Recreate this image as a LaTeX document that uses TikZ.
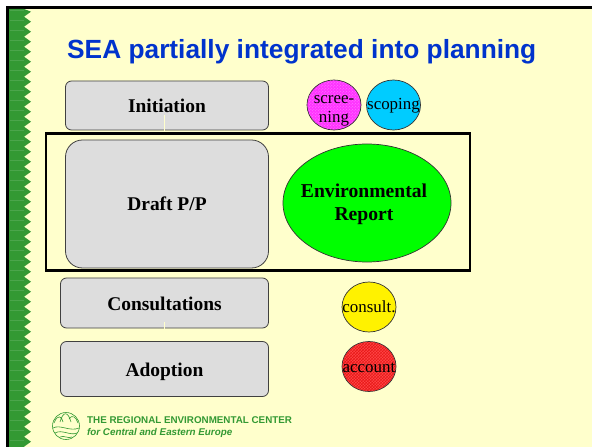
\documentclass[tikz,border=0pt]{standalone}
\usepackage{fontspec}
\setmainfont{Liberation Serif}
\setsansfont{Liberation Sans}
\usetikzlibrary{patterns,shapes.geometric}
\definecolor{bgy}{RGB}{255,255,204}
\definecolor{gbox}{RGB}{221,221,221}
\definecolor{leaf}{RGB}{51,153,51}
\definecolor{titleblue}{RGB}{0,51,204}
\definecolor{mag}{RGB}{255,51,255}
\definecolor{magl}{RGB}{255,130,255}
\definecolor{cyanb}{RGB}{0,204,255}
\definecolor{redb}{RGB}{255,70,70}
\definecolor{redl}{RGB}{230,20,20}
\newcommand{\zw}[2][0bp]{\raisebox{#1}[0pt][0pt]{\makebox[0pt]{#2}}}
\tikzset{
  x=1bp,y=-1bp,
  stage/.style={draw=black!75,line width=0.8bp,fill=gbox,minimum width=#1,align=center,font=\bfseries\fontsize{19.5}{22}\selectfont,inner sep=0pt},
  bubble/.style={ellipse,draw=black!80,line width=0.7bp,inner sep=0pt,minimum width=54bp,minimum height=50bp,align=center,font=\fontsize{17}{19}\selectfont},
  link/.style={draw=bgy,line width=0.9bp},
}
\begin{document}
\begin{tikzpicture}
\useasboundingbox (0,0) rectangle (592,447);
\fill[bgy] (0,0) rectangle (592,447);
\fill[white] (0,0) rectangle (592,6) (0,0) rectangle (6,447);
% frame
\fill[black] (6,6) rectangle (592,9);
\fill[black] (6,6) rectangle (9,447);
% zigzag band
\fill[leaf] (9,9) -- (24,9)
  \foreach \k in {0,...,43}{ -- (31,{11.7+10*\k}) -- (24,{16.7+10*\k}) } -- (24,447) -- (9,447) -- cycle;
\foreach \k in {0,...,43}{\draw[white,opacity=.12,line width=.6bp] (10,{10+10*\k}) -- (24,{10+10*\k});}
% title
\node[anchor=west,text=titleblue,font=\sffamily\bfseries\fontsize{26.4}{30}\selectfont,inner sep=0pt] (title) at (67,51.5) {SEA partially integrated into planning};
% stages
\node[stage=203bp,minimum height=49bp,rounded corners=6bp] (init) at (167,105.5) {\zw[-7.2bp]{Initiation}};
\node[stage=203bp,minimum height=128bp,rounded corners=17bp] (draft) at (167,204) {\zw[-6.5bp]{Draft P/P}};
\node[stage=208bp,minimum height=50bp,rounded corners=6bp] (cons) at (164.5,303) {\zw[-7.7bp]{Consultations}};
\node[stage=208bp,minimum height=55bp,rounded corners=6bp] (adop) at (164.5,369) {\zw[-7bp]{Adoption}};
% links
\coordinate (l1a) at (164.5,115);
\coordinate (l1b) at (164.5,131);
\coordinate (l2a) at (164.5,322);
\coordinate (l2b) at (164.5,341);
\draw[link] (l1a) -- (l1b);
\draw[link] (l2a) -- (l2b);
% enclosing rectangle
\node[draw=black,line width=2.2bp,minimum width=424bp,minimum height=137bp,inner sep=0pt] (group) at (258,202) {};
% bubbles
\node[bubble,fill=mag] (scr) at (334,105) {};
\fill[pattern=crosshatch dots,pattern color=magl] (scr.center) ellipse (26.6 and 24.6);
\node[inner sep=0pt,align=center,font=\fontsize{17}{19}\selectfont] (scrtext) at (334,110.5) {scree-\\ning};
\node[bubble,fill=cyanb] (sco) at (393.5,105) {\zw[-5bp]{scoping}};
\node[ellipse,draw=black!80,line width=0.7bp,fill=green,minimum width=168bp,minimum height=118bp,inner sep=0pt,align=center,font=\bfseries\fontsize{19.7}{23}\selectfont] (er) at (367,203) {};
\node[inner sep=0pt,align=center,font=\bfseries\fontsize{19.7}{23}\selectfont] (ertext) at (364,204) {Environmental\\Report};
\node[bubble,fill=yellow] (con) at (369,307) {\zw[-5.7bp]{consult.}};
\node[bubble,fill=redb] (acc) at (369,366.5) {};
\fill[pattern=crosshatch,pattern color=redl] (acc.center) ellipse (26.6 and 24.6);
\node[inner sep=0pt,font=\fontsize{17}{19}\selectfont] (acctext) at (369,366.5) {\zw[-6bp]{account}};
% logo
\draw[leaf,line width=.6bp] (66,426) circle (13.5);
\draw[leaf,line width=.6bp] (54,423) .. controls (58,413) and (62,417) .. (63,422) (60,422) .. controls (63,411) and (68,411) .. (71,422) (69,419) .. controls (72,414) and (76,417) .. (78,423);
\draw[leaf,line width=.6bp] (53,428) .. controls (60,424) and (70,432) .. (79,428) (55,433) .. controls (62,429) and (70,436) .. (77,433) (60,437) .. controls (64,435) and (68,439) .. (72,437);
% footer
\node[anchor=west,text=leaf,font=\sffamily\bfseries\fontsize{9.85}{11}\selectfont,inner sep=0pt] (f1) at (87,420.5) {THE REGIONAL ENVIRONMENTAL CENTER};
\node[anchor=west,text=leaf,font=\sffamily\bfseries\itshape\fontsize{9.85}{11}\selectfont,inner sep=0pt] (f2) at (87,432.5) {for Central and Eastern Europe};
\end{tikzpicture}
\end{document}
